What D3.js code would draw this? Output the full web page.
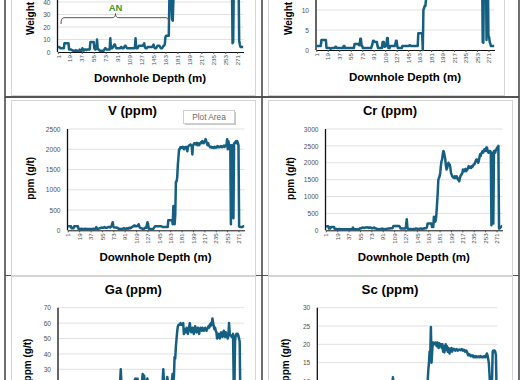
<!DOCTYPE html>
<meta charset="utf-8">
<style>
  body { margin: 0; background: #fff; }
  svg { display: block; font-family: "Liberation Sans", Arial, sans-serif; }
  .tick text { fill: #505050; }
  .ttl { font-weight: bold; fill: #000; }
</style>
<svg width="521" height="380"></svg>
<script src="https://d3js.org/d3.v7.min.js"></script>
<script>
  // depth categories 1..280 m, labelled every 18 m
  var depth = d3.range(1, 281);
  var depthTicks = [1, 19, 37, 55, 73, 91, 109, 127, 145, 163, 181, 199, 217, 235, 253, 271];

  // top-left panel (weight %, upper part cut off)
  var weightA = [
    4,4,4,3.5,3,3,3,3,3,3,7,7,7,7,7,7,7,2,2,2,
    2,1.5,1.5,1,1,1,1,1.5,1,1,1,1,1,2,1,1,1,3,2,1,
    2,2,2,1.5,2,2,2,2,2,8,8,8,8,8,8,3,2,2,3,10,
    3,2,2,1,1,1,1,1,1,1,2,3,3,2,2,2,2,2,2,11,
    3,3,3,4,5,6,6,4,3,3,3,3,3,3,3,4,4,3,3,3,
    4,5,5,4,3,3,3,3,3,3,3,3,3,3,3,3,4,11,3,3,
    3,4,5,5,5,5,5,5,5,6,7,4,3,3,3,4,4,4,4,4,
    4,4,4,5,6,4,3,3,3,4,5,5,5,5,4,3,3,3,4,5,
    5,6,12,13,13,13,13,13,45,55,50,38,26,25,42,58,60,62,61,60,
    60,61,59,58,60,62,61,60,59,58,60,61,62,60,59,58,60,61,60,59,
    60,61,62,61,60,59,58,60,61,62,61,60,59,60,61,62,63,62,61,60,
    60,61,60,59,60,61,62,61,60,59,60,61,60,59,60,61,62,61,60,61,
    60,59,60,61,62,61,60,59,60,61,60,61,62,61,60,59,60,61,60,62,
    61,60,60,7,8,58,60,61,60,62,61,60,61,9,6,4,4,4,4,4
  ];

  // top-right panel (weight %, upper part cut off)
  var weightB = [
    1,1,1,1,1,1,1,1,2.5,2.5,2.5,2.5,2.5,2.5,2.5,2.5,0.5,0.5,0.5,0.5,
    0.5,0.5,0.3,0.3,0.5,0.5,0.5,0.5,0.5,0.5,0.8,0.8,0.5,0.5,0.5,0.5,0.5,0.5,0.5,0.5,
    0.5,0.5,0.5,1,1,0.5,0.5,0.5,0.5,0.5,0.5,0.5,0.5,0.5,0.5,0.5,0.5,0.5,0.5,0.5,
    1.5,1.5,1.5,1.5,1.5,1.5,1.5,1.2,1.2,2.8,2.8,1,1,0.5,0.5,0.5,0.5,0.5,0.5,0.5,
    0.5,0.5,0.5,0.5,0.5,0.5,0.5,1,1.5,2.3,2.3,2.2,2,2,2,2,1,0.5,0.5,0.5,
    0.5,0.5,0.5,0.5,2,2,2,0.8,0.8,1,1,3,3,0.5,0.5,0.5,1,1,1,1,
    1,1,1,1,1.5,2.3,2.3,1,0.5,0.5,0.5,0.5,0.5,0.5,0.5,1,1,1,1,1,
    1,1,1,1,1,1,1.2,1.2,1,1,1,1,1,1,1,1,1,1,1,1,
    4.2,4.2,4.2,4.2,4.2,4.2,4.2,0,10,10.5,11,11,12.5,16,18,19,18,20,21,20,
    19,20,21,20,19,18,19,20,21,20,19,20,21,22,20,19,20,21,20,19,
    20,21,20,19,20,21,22,21,20,19,20,21,20,19,20,21,20,19,20,21,
    20,19,20,21,22,21,20,19,20,21,20,21,20,19,20,21,22,21,20,19,
    20,21,20,19,20,21,20,19,20,21,22,21,20,19,20,21,20,19,20,21,
    20,2,1.8,20,21,20,21,2.5,20,19,3.5,3.2,2,1.5,1,1,1,1,1,1
  ];

  var vPpm = [
    100,100,100,100,100,100,50,50,50,50,100,100,100,100,100,100,100,30,30,30,
    30,40,40,30,30,30,30,40,40,30,30,30,30,30,30,30,30,30,30,30,
    40,40,30,30,50,80,40,30,30,40,50,50,60,60,70,60,60,70,80,70,
    60,60,70,70,80,80,80,70,80,100,150,200,100,70,70,70,70,70,60,60,
    40,40,40,30,30,30,40,40,50,50,40,40,40,50,50,40,40,60,60,50,
    60,80,80,100,100,120,100,110,100,100,110,120,150,100,60,60,50,50,40,40,
    40,40,60,60,60,120,200,150,40,30,30,30,30,30,30,30,50,80,100,100,
    100,100,100,100,100,100,100,100,100,90,80,80,80,80,80,80,80,80,80,250,
    250,250,250,250,250,250,150,600,200,150,400,1200,1200,1300,1600,1800,2000,2000,2050,2050,
    2050,2030,2060,2050,2000,2050,2040,2060,2050,1950,2050,2080,2100,2100,2120,2100,2080,1870,2100,2120,
    2150,2150,2120,2150,2160,2100,2150,2140,2100,2150,2160,2180,2150,2200,2180,2150,2180,2200,2250,2200,
    2150,2100,2150,2100,2080,2050,2050,2060,2040,2050,2050,2030,2060,2050,2040,2060,2050,2080,2050,2060,
    2050,2060,2080,2070,2050,2060,2080,2090,2060,2080,2100,2080,2250,2000,2200,2100,2000,2100,150,2100,
    2100,2050,300,2150,2150,2180,2200,2150,2200,2150,2100,100,80,80,80,80,80,90,100,100
  ];

  var crPpm = [
    120,120,120,120,120,50,50,50,100,100,100,100,100,100,40,40,40,40,30,30,
    30,40,40,30,30,30,30,30,30,30,30,30,30,30,30,30,30,30,30,30,
    30,30,50,80,40,30,30,30,30,30,30,30,30,30,60,60,60,70,80,80,
    70,70,80,80,80,80,90,80,70,80,80,80,70,60,60,70,80,80,60,50,
    50,40,40,30,30,30,40,40,40,50,40,40,30,30,40,40,40,40,50,50,
    50,50,60,60,60,60,80,130,130,130,120,130,130,120,130,130,130,100,60,50,
    50,50,50,50,50,50,50,150,330,100,40,30,30,40,40,40,30,30,30,40,
    40,40,50,50,50,40,40,40,40,50,50,50,40,40,50,50,60,60,60,60,
    100,200,200,200,200,200,200,200,100,100,100,400,250,250,300,500,800,1100,1500,1550,
    1600,1700,1900,2050,2100,2250,2350,2300,2200,2100,1900,1800,1850,1950,2000,1950,1950,1850,1700,1650,
    1600,1580,1560,1550,1600,1550,1560,1600,1550,1500,1520,1450,1550,1600,1650,1650,1700,1800,1780,1750,
    1800,1820,1750,1780,1800,1850,1900,1870,1850,1880,1850,1900,1880,1920,1950,1950,2000,2050,2100,2100,
    2050,2000,2050,2150,2250,2200,2280,2300,2350,2300,2350,2400,2380,2350,2450,2450,2350,2300,2300,2350,
    2350,2300,150,2300,2200,200,2350,2350,2300,2380,2400,2450,2450,2500,50,60,80,100,120,120
  ];

  var gaPpm = [
    18,18,17,16,16,15,15,16,17,17,16,15,14,14,15,15,16,16,15,15,
    14,14,15,15,15,14,14,15,16,16,15,15,14,14,15,16,16,15,15,14,
    14,15,15,16,17,18,17,16,16,17,18,18,17,17,18,19,19,18,17,17,
    18,19,20,19,18,18,19,20,20,19,18,18,19,19,18,17,17,18,19,19,
    18,18,19,19,20,19,18,19,20,20,19,19,20,22,30,20,19,18,18,19,
    19,20,20,21,20,20,21,21,22,21,20,21,22,21,22,23,24,21,22,24,
    22,21,20,21,22,21,22,27,26,26,22,21,22,22,24,21,20,20,19,19,
    20,20,21,21,20,20,19,19,20,20,21,21,20,19,20,21,22,22,30,22,
    21,20,21,22,25,22,21,21,22,22,22,23,27,22,25,38,37,45,50,55,
    58,59,59,59,60,59,59,59,60,53,55,56,54,57,56,53,55,58,60,56,
    54,56,57,55,53,56,58,55,54,56,57,55,53,56,57,56,55,57,56,55,
    56,57,56,55,56,57,58,57,59,58,60,59,63,60,58,56,57,55,54,50,
    52,53,51,50,53,54,52,51,53,55,52,51,54,53,52,50,52,60,53,52,
    52,51,52,53,20,15,48,52,53,52,53,52,50,48,10,12,14,15,15,15
  ];

  var scPpm = [
    5,5,5,5,5,6,6,6,5,5,5,5,4,4,5,5,5,5,4,4,
    4,4,4,4,4,5,5,5,5,5,4,4,4,4,5,5,5,5,5,5,
    5,5,6,6,6,6,6,6,5,5,6,6,6,7,7,7,7,6,6,7,
    7,7,7,8,8,7,7,7,7,8,8,8,8,7,7,8,9.5,8,7,7,
    7,7,7,8,8,8,8,8,7,7,7,8,8,8,8,8,8,8,8,8,
    8,8,8,8,8,8,8,8,8,8,8,8,8,8,8,8,9,11,9,8,
    8,8,8,8,8,8,8,8,8,8,8,8,8,8,8,8,8,8,8,8,
    8,8,8,8,8,8,8,8,8,8,8,8,8,8,8,8,8,8,8,8,
    8,8,8,9,9,9,9,9,9,9,9,10,13,15,18,17,24.7,15,18,20.5,
    20.5,20,20.3,20.5,20,19.5,20.5,20,19,20.3,20,19.5,20,19,20,18,19.5,17.8,19,20,
    18.5,19.5,18,19,18.5,17.5,18.8,18.5,19,18,18.5,18.5,18.8,18.5,18.3,18.5,18.7,18.5,18.3,18.5,
    18.5,18.6,18.4,18.5,18.7,18.5,18.3,18.5,18.4,18,18.2,18.3,18,17.5,17,17,17.3,17,16.8,17,
    16.8,17,16.5,16.8,16.5,16.5,16.8,16.5,16.6,16.5,16.7,16.5,16.5,16.8,16.5,16.6,16.5,16.5,16.7,16.5,
    16.8,16.5,17,17.5,17,16,15,12,9,8,8,10,18,18.3,18,18.3,18,17,8,5
  ];

  var lineColor = "#156082";
  var svg = d3.select("svg");

  // page table borders (dark), drawn under the chart frames
  svg.append("line").attr("x1", 5).attr("x2", 519).attr("y1", 97).attr("y2", 97)
    .attr("stroke", "#555").attr("stroke-width", 1.8);
  svg.append("line").attr("x1", 5).attr("x2", 519).attr("y1", 275.5).attr("y2", 275.5)
    .attr("stroke", "#555").attr("stroke-width", 1.2);

  // chart area frames
  var frames = [
    [11, -200, 255, 95], [268, -200, 504, 95],
    [11, 100, 255, 275], [268, 100, 512, 275],
    [11, 276, 255, 500], [268, 276, 512, 500]
  ];
  svg.selectAll("rect.frame").data(frames).join("rect")
    .attr("class", "frame")
    .attr("x", function (d) { return d[0] + 0.5; })
    .attr("y", function (d) { return d[1] + 0.5; })
    .attr("width", function (d) { return d[2] - d[0]; })
    .attr("height", function (d) { return d[3] - d[1]; })
    .attr("fill", "#fff").attr("stroke", "#d4d4d4").attr("stroke-width", 1);

  [5, 262, 519].forEach(function (x) {
    svg.append("line").attr("x1", x).attr("x2", x).attr("y1", 0).attr("y2", 380)
      .attr("stroke", "#4a4a4a").attr("stroke-width", 1.6);
  });

  var panels = [
    { values: weightA, xr: [57.5, 243.5], yr: [52, 2], yRef: 40, ticks: [0, 10, 20, 30, 40], grid: [10, 20, 30, 40, 50], axisTop: 80,
      xTitle: [150, 82], yTitle: { x: 30, y: 35, text: "Weight %", anchor: "start" } },
    { values: weightB, xr: [316, 494.5], yr: [50, 10], yRef: 10, ticks: [0, 5, 10], grid: [5, 10, 15], axisTop: 25,
      xTitle: [405, 80.5], yTitle: { x: 288, y: 35, text: "Weight %", anchor: "start" } },
    { values: vPpm, xr: [67.5, 244.5], yr: [230.3, 129], yRef: 2500, ticks: [0, 500, 1000, 1500, 2000, 2500], axisTop: 2500,
      title: { text: "V (ppm)", x: 132.5, y: 115, len: 49 },
      xTitle: [155.5, 261], yTitle: { x: 30, y: 178.3, text: "ppm (g/t)", anchor: "middle" } },
    { values: crPpm, xr: [325.5, 502.5], yr: [230.3, 129], yRef: 3000, ticks: [0, 500, 1000, 1500, 2000, 2500, 3000], axisTop: 3000,
      title: { text: "Cr (ppm)", x: 390, y: 115, len: 54 },
      xTitle: [413.8, 261], yTitle: { x: 290, y: 178.5, text: "ppm (g/t)", anchor: "middle" } },
    { values: gaPpm, xr: [58, 244], yr: [415.5, 307.7], yRef: 70, ticks: [30, 40, 50, 60, 70], grid: [20, 30, 40, 50, 60, 70], axisTop: 70,
      noXAxis: true,
      title: { text: "Ga (ppm)", x: 133.3, y: 293.5, len: 57 },
      yTitle: { x: 27, y: 360, text: "ppm (g/t)", anchor: "middle" } },
    { values: scPpm, xr: [317.3, 497.5], yr: [417.6, 307.7], yRef: 30, ticks: [10, 15, 20, 25, 30], grid: [10, 15, 20, 25, 30], axisTop: 30,
      noXAxis: true,
      title: { text: "Sc (ppm)", x: 390, y: 293.5, len: 57 },
      yTitle: { x: 285, y: 360, text: "ppm (g/t)", anchor: "middle" } }
  ];

  panels.forEach(function (p) {
    var g = svg.append("g");
    var x = d3.scalePoint().domain(depth).range(p.xr).padding(0.5);
    var y = d3.scaleLinear().domain([0, p.yRef]).range(p.yr);

    // gridlines
    var gridVals = p.grid || p.ticks.slice(1);
    g.selectAll("line.grid").data(gridVals).join("line")
      .attr("class", "grid")
      .attr("x1", p.xr[0]).attr("x2", p.xr[1])
      .attr("y1", function (d) { return y(d); }).attr("y2", function (d) { return y(d); })
      .attr("stroke", "#d9d9d9").attr("stroke-width", 0.8);

    // y axis
    var ya = g.append("g").attr("transform", "translate(" + p.xr[0] + ",0)")
      .call(d3.axisLeft(y).tickValues(p.ticks).tickSize(0).tickPadding(7).tickFormat(d3.format("d")));
    ya.select(".domain").remove();
    ya.selectAll("text").attr("font-size", 6.6).attr("font-family", "Liberation Sans, Arial, sans-serif");
    g.append("line").attr("x1", p.xr[0]).attr("x2", p.xr[0])
      .attr("y1", p.noXAxis ? 400 : y(0)).attr("y2", y(p.axisTop))
      .attr("stroke", "#111").attr("stroke-width", 1.3);

    // x axis
    if (!p.noXAxis) {
      var xa = g.append("g").attr("transform", "translate(0," + y(0) + ")")
        .call(d3.axisBottom(x).tickValues(depthTicks).tickSizeInner(2).tickSizeOuter(0));
      xa.select(".domain").attr("stroke", "#111");
      xa.selectAll(".tick line").attr("stroke", "#555");
      xa.selectAll("text")
        .attr("transform", "rotate(-90)")
        .attr("text-anchor", "end")
        .attr("x", -3).attr("y", 0).attr("dy", "0.35em")
        .attr("font-size", 6.2).attr("font-family", "Liberation Sans, Arial, sans-serif");
    }

    // data line
    g.append("path").datum(p.values)
      .attr("fill", "none").attr("stroke", lineColor).attr("stroke-width", 2.5)
      .attr("stroke-linejoin", "round")
      .attr("d", d3.line()
        .x(function (d, i) { return x(depth[i]); })
        .y(function (d) { return y(d); }));

    if (p.title) {
      g.append("text").attr("class", "ttl")
        .attr("x", p.title.x).attr("y", p.title.y)
        .attr("text-anchor", "middle").attr("font-size", 12.5)
        .attr("textLength", p.title.len).attr("lengthAdjust", "spacingAndGlyphs")
        .text(p.title.text);
    }
    if (p.xTitle) {
      g.append("text").attr("class", "ttl")
        .attr("x", p.xTitle[0]).attr("y", p.xTitle[1])
        .attr("text-anchor", "middle").attr("font-size", 11.5)
        .attr("textLength", 112).attr("lengthAdjust", "spacingAndGlyphs")
        .text("Downhole Depth (m)");
    }
    g.append("text").attr("class", "ttl")
      .attr("transform", "translate(" + p.yTitle.x + "," + p.yTitle.y + ") rotate(-90)")
      .attr("text-anchor", p.yTitle.anchor).attr("dy", "0.35em")
      .attr("font-size", 10)
      .text(p.yTitle.text);
  });

  // "AN" brace annotation on the first panel
  svg.append("path")
    .attr("d", "M61,24 Q61,17.7 64,17.7 L112,17.7 Q115.5,17.7 115.5,13.5 Q115.5,17.7 119,17.7 L166,17.7 Q169,17.7 169,24")
    .attr("fill", "none").attr("stroke", "#555").attr("stroke-width", 1);
  svg.append("text").attr("x", 115.5).attr("y", 10.5).attr("text-anchor", "middle")
    .attr("font-size", 9.5).attr("font-weight", "bold").attr("fill", "#3c9a2c")
    .text("AN");

  // "Plot Area" hover tag
  var tag = svg.append("g");
  tag.append("rect").attr("x", 185).attr("y", 112).attr("width", 51).attr("height", 13)
    .attr("fill", "#c8c8c8");
  tag.append("rect").attr("x", 183.5).attr("y", 110.5).attr("width", 51).attr("height", 13)
    .attr("fill", "#fff").attr("stroke", "#cfcfcf");
  tag.append("text").attr("x", 209).attr("y", 120.3).attr("text-anchor", "middle")
    .attr("font-size", 8.3).attr("fill", "#6a6a6a").text("Plot Area");
</script>
